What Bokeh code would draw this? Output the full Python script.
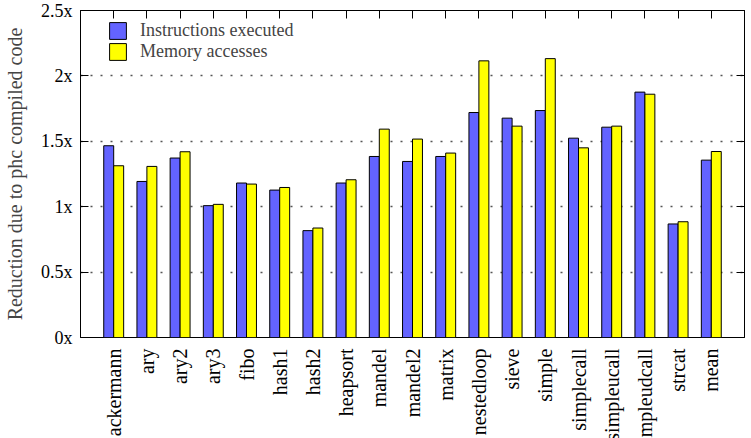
from bokeh.plotting import figure
from bokeh.layouts import column
from bokeh.models import (ColumnDataSource, FixedTicker, LinearAxis, Range1d,
                          Legend, LegendItem)
from bokeh.core.properties import value
from bokeh.embed import file_html
from bokeh.resources import INLINE
import math

# Benchmarks and reduction ratios (phc compiled vs interpreted)
benchmarks = ["ackermann", "ary", "ary2", "ary3", "fibo", "hash1", "hash2",
              "heapsort", "mandel", "mandel2", "matrix", "nestedloop", "sieve",
              "simple", "simplecall", "simpleucall", "simpleudcall", "strcat",
              "mean"]
instructions = [1.466, 1.193, 1.372, 1.008, 1.181, 1.127, 0.817, 1.181, 1.384,
                1.346, 1.384, 1.720, 1.677, 1.735, 1.524, 1.608, 1.876, 0.868,
                1.356]
memory = [1.313, 1.308, 1.420, 1.018, 1.173, 1.147, 0.837, 1.206, 1.593,
          1.517, 1.410, 2.115, 1.616, 2.132, 1.450, 1.616, 1.860, 0.885,
          1.422]
y_ticks = [0, 0.5, 1, 1.5, 2, 2.5]
y_tick_labels = ["0x", "0.5x", "1x", "1.5x", "2x", "2.5x"]

FONT = "Liberation Serif"
BAR_W = 0.3
W = 751
MAIN_H = 348      # chart panel (frame 10..337)
NAMES_H = 90      # strip holding the rotated benchmark names

idx = list(range(len(benchmarks)))
src = ColumnDataSource(dict(
    xi=[i - BAR_W / 2 for i in idx],
    xm=[i + BAR_W / 2 for i in idx],
    instr=instructions,
    mem=memory,
))

xr = Range1d(-1, len(benchmarks))

p = figure(width=W, height=MAIN_H, output_backend="svg", toolbar_location=None,
           x_range=xr, y_range=Range1d(0, 2.5),
           min_border_left=78, min_border_right=7, min_border_top=10,
           min_border_bottom=11, x_axis_location=None, y_axis_location=None)
p.background_fill_color = "white"
p.border_fill_color = "white"
p.outline_line_color = "black"
p.outline_line_width = 1
p.xgrid.visible = False

r1 = p.vbar(x="xi", top="instr", width=BAR_W, bottom=0, source=src,
            fill_color="#6363ff", line_color="black", line_width=1)
r2 = p.vbar(x="xm", top="mem", width=BAR_W, bottom=0, source=src,
            fill_color="#ffff00", line_color="black", line_width=1)

x_ticker = FixedTicker(ticks=idx)
y_ticker = FixedTicker(ticks=y_ticks)

def style_axis(ax):
    ax.axis_line_color = "black"
    ax.major_tick_in = 8
    ax.major_tick_out = 0
    ax.minor_tick_line_color = None
    ax.major_tick_line_color = "black"
    ax.major_label_text_font = FONT
    ax.major_label_text_font_size = "18px"
    ax.major_label_text_color = "black"

def blank_labels(ax, ticks):
    ax.major_label_overrides = {t: "" for t in ticks}
    ax.major_label_standoff = 0

# Left axis
yl = LinearAxis(ticker=y_ticker,
                major_label_overrides={v: s for v, s in zip(y_ticks, y_tick_labels)},
                axis_label="Reduction due to phc compiled code")
style_axis(yl)
yl.major_label_standoff = 8
yl.axis_label_text_font = FONT
yl.axis_label_text_font_size = "20px"
yl.axis_label_text_font_style = "normal"
yl.axis_label_standoff = 12
p.add_layout(yl, "left")

# Right axis (ticks only)
yr = LinearAxis(ticker=y_ticker)
style_axis(yr)
blank_labels(yr, y_ticks)
p.add_layout(yr, "right")

# Top axis (ticks only)
xt = LinearAxis(ticker=x_ticker)
style_axis(xt)
blank_labels(xt, idx)
p.add_layout(xt, "above")

# Dotted horizontal grid
p.ygrid.ticker = y_ticker
p.ygrid.grid_line_color = "#555555"
p.ygrid.grid_line_width = 1.5
p.ygrid.grid_line_dash = "2 8"

# Legend swatches are inset by 10% per side, so 21px boxes show as ~17px
legend = Legend(items=[LegendItem(label="Instructions executed", renderers=[r1]),
                       LegendItem(label="Memory accesses", renderers=[r2])])
legend.margin = 0
legend.padding = 0
legend.location = (27, 327 - 10 - 42)
legend.border_line_color = None
legend.background_fill_alpha = 0
legend.glyph_width = 21
legend.glyph_height = 21
legend.label_standoff = 12
legend.spacing = 0
legend.label_text_font = FONT
legend.label_text_font_size = "18px"
legend.label_height = 17
p.add_layout(legend)

# Benchmark names, rotated, hanging below the chart on the shared x range
q = figure(width=W, height=NAMES_H, output_backend="svg", toolbar_location=None,
           x_range=xr, y_range=Range1d(0, NAMES_H),
           min_border_left=78, min_border_right=7, min_border_top=0,
           min_border_bottom=0, x_axis_location=None, y_axis_location=None)
q.grid.visible = False
q.outline_line_color = None
q.background_fill_color = "white"
q.border_fill_color = "white"
name_src = ColumnDataSource(dict(x=idx, y=[NAMES_H] * len(idx),
                                 name=benchmarks))
q.text(x="x", y="y", text="name", source=name_src, angle=math.pi / 2,
       text_align="right", text_baseline="middle",
       text_font=value(FONT), text_font_size="20px", text_color="black")

layout = column(p, q, spacing=0)
open("out.html", "w").write(file_html(layout, INLINE))
